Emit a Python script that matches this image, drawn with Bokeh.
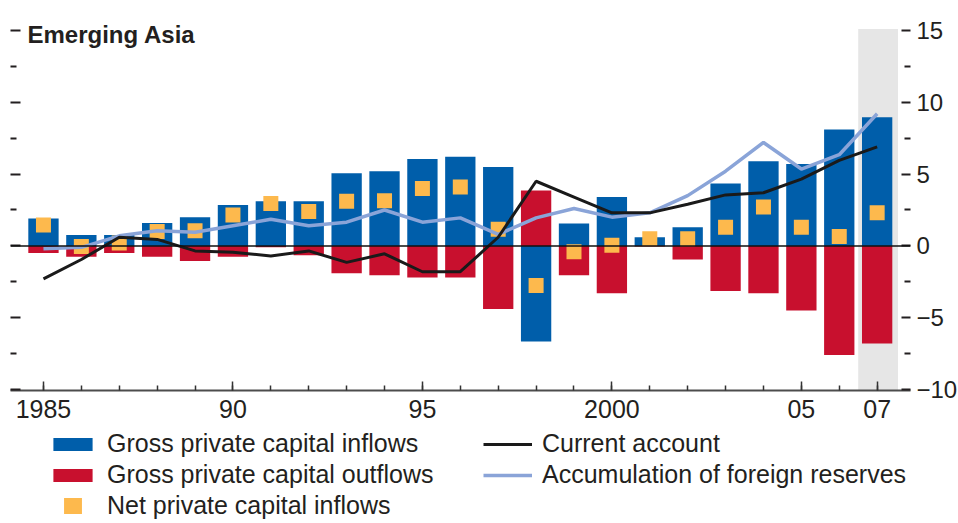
from bokeh.plotting import figure
from bokeh.layouts import column
from bokeh.models import (Range1d, LinearAxis, FixedTicker, BoxAnnotation, Span,
                          Label, Legend, LegendItem, ColumnDataSource)
from bokeh.embed import file_html
from bokeh.resources import INLINE

# ---------------- data (percent of GDP) ----------------
years = list(range(1985, 2008))
inflows = [1.9, 0.75, 0.75, 1.6, 2.0, 2.85, 3.1, 3.1, 5.05, 5.2, 6.05, 6.2,
           5.5, -6.65, 1.55, 3.4, 0.6, 1.3, 4.35, 5.9, 5.7, 8.1, 8.95]
outflows = [-0.5, -0.75, -0.5, -0.75, -1.05, -0.75, -0.1, -0.65, -1.9, -2.05,
            -2.2, -2.2, -4.4, 3.85, -2.05, -3.3, -0.05, -0.95, -3.15, -3.3,
            -4.5, -7.6, -6.8]
net_inflows = [1.45, -0.05, 0.2, 1.0, 1.05, 2.15, 2.95, 2.4, 3.1, 3.15, 4.0,
               4.1, 1.15, -2.75, -0.4, 0.05, 0.5, 0.5, 1.3, 2.7, 1.3, 0.65, 2.3]
current_account = [-2.3, -0.95, 0.6, 0.45, -0.35, -0.45, -0.7, -0.35, -1.15,
                   -0.55, -1.8, -1.8, 0.6, 4.5, 3.4, 2.3, 2.3, 2.9, 3.55, 3.7,
                   4.65, 5.95, 6.9]
reserves = [-0.2, -0.1, 0.7, 1.05, 0.95, 1.4, 1.85, 1.4, 1.65, 2.5, 1.65, 1.95,
            0.8, 1.95, 2.6, 2.0, 2.3, 3.5, 5.2, 7.2, 5.35, 6.35, 9.2]

x_tick_values = [1985, 1990, 1995, 2000, 2005, 2007]
x_tick_labels = ["1985", "90", "95", "2000", "05", "07"]
y_tick_values = [-10, -5, 0, 5, 10, 15]
y_minor_values = [-7.5, -2.5, 2.5, 7.5, 12.5]

BLUE = "#005EAA"
RED = "#C8102E"
ORANGE = "#FDB94D"
LIGHTBLUE = "#8AA4D8"
BLACK = "#1A1A1A"
TEXT = "#231F20"
FONT = "Liberation Sans"

src = ColumnDataSource(dict(year=years, inflows=inflows, outflows=outflows,
                            net=net_inflows, ca=current_account, res=reserves))

p = figure(frame_width=900, frame_height=380,
           x_range=Range1d(1984.13, 2007.88), y_range=Range1d(-10.07, 16.39),
           output_backend="svg", toolbar_location=None,
           min_border_left=10, min_border_top=10, min_border_right=48,
           min_border_bottom=38)
p.outline_line_color = None
p.grid.visible = False
p.background_fill_color = "white"

# shaded projection year
p.add_layout(BoxAnnotation(left=2006.5, right=2007.55, top=15.1,
                           fill_color="#E6E6E6", fill_alpha=1, line_color=None,
                           level="underlay"))

# x axis
xa = p.xaxis[0]
xa.ticker = FixedTicker(ticks=x_tick_values, minor_ticks=years)
xa.major_label_overrides = dict(zip(x_tick_values, x_tick_labels))
xa.axis_line_color = "#4D4D4D"
xa.axis_line_width = 2
xa.major_tick_in = 9
xa.major_tick_out = 0
xa.minor_tick_in = 5
xa.minor_tick_out = 0
xa.major_tick_line_color = "#333333"
xa.minor_tick_line_color = "#333333"
xa.major_tick_line_width = 1.5
xa.minor_tick_line_width = 1.5
xa.major_label_text_font = FONT
xa.major_label_text_font_size = "25px"
xa.major_label_text_color = TEXT
xa.major_label_standoff = 9

# left axis: ticks only
ya = p.yaxis[0]
ya.ticker = FixedTicker(ticks=y_tick_values, minor_ticks=y_minor_values)
ya.axis_line_color = None
ya.major_tick_in = 10
ya.major_tick_out = 0
ya.minor_tick_in = 6
ya.minor_tick_out = 0
ya.major_tick_line_color = TEXT
ya.minor_tick_line_color = TEXT
ya.major_tick_line_width = 2
ya.minor_tick_line_width = 2
ya.major_label_overrides = {v: "" for v in y_tick_values}
ya.major_label_standoff = 0

# right axis with labels
ra = LinearAxis(ticker=FixedTicker(ticks=y_tick_values, minor_ticks=y_minor_values))
ra.axis_line_color = None
ra.major_tick_in = 9
ra.major_tick_out = 0
ra.minor_tick_in = 6
ra.minor_tick_out = 0
ra.major_tick_line_color = TEXT
ra.minor_tick_line_color = TEXT
ra.major_tick_line_width = 2
ra.minor_tick_line_width = 2
ra.major_label_text_font = FONT
ra.major_label_text_font_size = "24px"
ra.major_label_text_color = TEXT
ra.major_label_standoff = 6
p.add_layout(ra, "right")

# bars
bar_kw = dict(x="year", bottom=0, width=0.8, source=src, line_color=None)
r_in = p.vbar(top="inflows", fill_color=BLUE, **bar_kw)
r_out = p.vbar(top="outflows", fill_color=RED, **bar_kw)
# net inflow squares (thick outline so that the legend swatch is a square too)
sq_kw = dict(x="year", y="net", marker="square", size=3.5, line_width=11.5,
             line_join="miter", source=src, fill_color=ORANGE, line_color=ORANGE)
r_net = p.scatter(**sq_kw)

# zero line
p.add_layout(Span(location=0, dimension="width", line_color="#111111", line_width=1.5))

# lines
res_kw = dict(x="year", y="res", source=src, line_color=LIGHTBLUE, line_width=3.5)
ca_kw = dict(x="year", y="ca", source=src, line_color=BLACK, line_width=3)
r_res = p.line(**res_kw)
r_ca = p.line(**ca_kw)

# title
p.add_layout(Label(x=17, y=356, x_units="screen", y_units="screen",
                   text="Emerging Asia", text_font=FONT,
                   text_font_style="bold", text_font_size="24px",
                   text_color=TEXT, text_baseline="alphabetic"))

# ---------------- legend strip (separate figure below the chart) ----------------
lf = figure(width=958, height=95, x_range=Range1d(0, 1), y_range=Range1d(0, 1),
            output_backend="svg", toolbar_location=None,
            x_axis_type=None, y_axis_type=None,
            min_border_left=0, min_border_right=0, min_border_top=0,
            min_border_bottom=0)
lf.outline_line_color = None
lf.grid.visible = False

l_in = lf.vbar(top="inflows", fill_color=BLUE, visible=False, **bar_kw)
l_out = lf.vbar(top="outflows", fill_color=RED, visible=False, **bar_kw)
l_net = lf.scatter(visible=False, **sq_kw)
l_ca = lf.line(visible=False, **ca_kw)
l_res = lf.line(visible=False, **res_kw)

legend = Legend(items=[
    LegendItem(label="Gross private capital inflows", renderers=[l_in]),
    LegendItem(label="Gross private capital outflows", renderers=[l_out]),
    LegendItem(label="Net private capital inflows", renderers=[l_net]),
    LegendItem(label="Current account", renderers=[l_ca]),
    LegendItem(label="Accumulation of foreign reserves", renderers=[l_res]),
], nrows=3, orientation="vertical", location=(38, 2),
    glyph_width=49, glyph_height=16, label_standoff=10,
    label_height=31, label_width=376, spacing=0, padding=0, margin=0,
    border_line_color=None, background_fill_alpha=0, inactive_fill_alpha=0,
    label_text_font=FONT, label_text_font_size="25px", label_text_color=TEXT)
lf.add_layout(legend)

layout = column(p, lf, spacing=0)

open("out.html", "w").write(file_html(layout, INLINE))
